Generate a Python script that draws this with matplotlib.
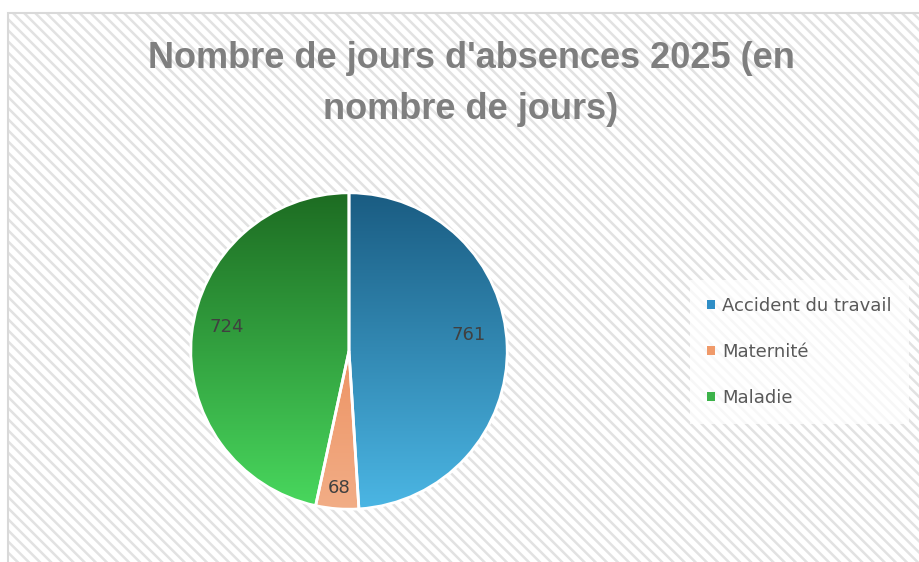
import matplotlib.pyplot as plt
import numpy as np
from matplotlib.patches import Rectangle, Patch
from matplotlib.colors import LinearSegmentedColormap

labels = ["Accident du travail", "Maternité", "Maladie"]
days = [761, 68, 724]
title = "Nombre de jours d'absences 2025 (en\nnombre de jours)"

# top -> bottom gradient for each slice, plus the flat legend colour
grad_top = ["#1a5c82", "#e87a42", "#1d6c22"]
grad_bottom = ["#4bb6e4", "#f2ad86", "#49d85e"]
legend_cols = ["#2f8ec6", "#f09a6a", "#3cb34a"]
# where the value labels sit (radius, shift from slice middle in degrees)
label_radius = [0.76, 0.87, 0.79]
label_shift = [6, 0, -5]

W, H = 920, 562
plt.rcParams['hatch.linewidth'] = 1.8
fig = plt.figure(figsize=(W / 100, H / 100), dpi=100)

# chart area: white with light grey diagonal stripes
bg = Rectangle((8 / W, 0), 1.2, (H - 13) / H, transform=fig.transFigure,
               facecolor="white", edgecolor="#e2e2e2", hatch="\\\\\\", lw=0, zorder=-2)
fig.patches.append(bg)
frame = Rectangle((8 / W, -0.1), 1.2, (H - 13) / H + 0.1, transform=fig.transFigure,
                  facecolor="none", edgecolor="#d9d9d9", lw=1.5, zorder=-1)
fig.patches.append(frame)

fig.text(471 / W, 1 - 41 / H, title, ha="center", va="top", fontsize=26,
         fontweight="bold", color="#7f7f7f", family="Liberation Sans", linespacing=1.6)

cx, cy, r = 349, 351, 159
ax = fig.add_axes([(cx - r) / W, (H - cy - r) / H, 2 * r / W, 2 * r / H])
ax.set_facecolor("none")
ax.axis("off")

total = sum(days)
wedges, _, autotexts = ax.pie(days, colors=legend_cols, startangle=90, counterclock=False,
                              autopct=lambda p: "%d" % round(p * total / 100),
                              wedgeprops=dict(edgecolor="white", linewidth=2),
                              textprops=dict(color="#404040", fontsize=13))

leg_handles = [Patch(facecolor=c, edgecolor="none") for c in legend_cols]
leg = fig.legend(leg_handles, labels, loc="center left", bbox_to_anchor=(690 / W, (H - 352) / H),
                 borderaxespad=0, frameon=True, fontsize=13, handlelength=0.45, handleheight=0.45,
                 handletextpad=0.4, labelspacing=1.55, borderpad=0.95)
leg.get_frame().set_facecolor("white")
leg.get_frame().set_alpha(0.75)
leg.get_frame().set_edgecolor("none")
leg.get_frame().set_boxstyle("square", pad=0)
for t in leg.get_texts():
    t.set_color("#595959")

for w, top, bot in zip(wedges, grad_top, grad_bottom):
    cmap = LinearSegmentedColormap.from_list("g", [bot, top])
    grad = np.linspace(0, 1, 256).reshape(-1, 1)
    im = ax.imshow(grad, cmap=cmap, extent=(-1, 1, -1, 1), origin="lower",
                   aspect="auto", zorder=0.5)
    im.set_clip_path(w)
    w.set_facecolor("none")
    w.set_zorder(1)

for w, t, rr, sh in zip(wedges, autotexts, label_radius, label_shift):
    ang = np.deg2rad((w.theta1 + w.theta2) / 2 + sh)
    t.set_position((rr * np.cos(ang), rr * np.sin(ang)))
    t.set_zorder(3)

ax.set_xlim(-1.005, 1.005)
ax.set_ylim(-1.005, 1.005)
fig.savefig("out.png", dpi=100)
